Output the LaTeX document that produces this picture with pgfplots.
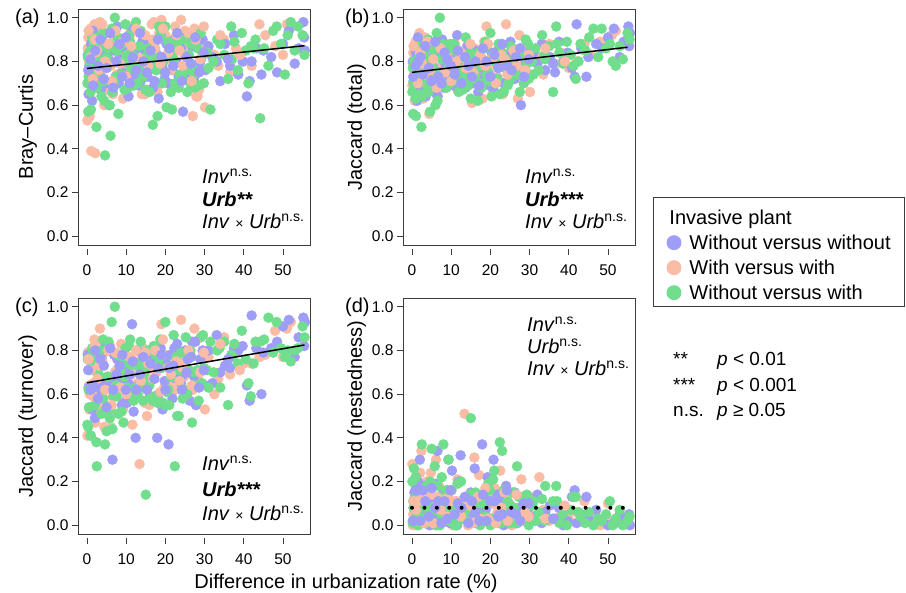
\documentclass[border=0pt]{standalone}
\usepackage{fontspec}
\setmainfont{Liberation Sans}
\usepackage{pgfplots}
\usepackage{pgfplotstable}
\pgfplotsset{compat=1.18}

\definecolor{cblue}{RGB}{158,158,248}
\definecolor{csalmon}{RGB}{250,188,165}
\definecolor{cgreen}{RGB}{112,222,140}
\definecolor{frame}{RGB}{60,60,60}

% columns: x = difference in urbanization rate, bc = Bray-Curtis,
% jt = Jaccard total, tu = turnover, ne = nestedness
\pgfplotstableread{
x bc jt tu ne
0.2 0.83 0.80 0.78 0.02
0.4 0.65 0.71 0.63 0.08
0.6 0.78 0.77 0.62 0.15
0.8 0.72 0.66 0.63 0.03
1.0 0.88 0.84 0.62 0.22
1.3 0.62 0.62 0.53 0.09
1.5 0.94 0.91 0.71 0.20
1.8 0.76 0.74 0.73 0.01
2.0 0.77 0.79 0.49 0.30
2.3 0.90 0.88 0.76 0.12
2.6 0.73 0.69 0.64 0.05
2.9 0.86 0.83 0.79 0.04
3.2 0.74 0.76 0.58 0.18
3.5 0.67 0.64 0.62 0.02
3.8 0.91 0.86 0.76 0.10
4.1 0.79 0.72 0.65 0.07
4.5 0.84 0.81 0.81 0.00
4.9 0.70 0.70 0.64 0.06
5.3 0.82 0.78 0.65 0.13
5.7 0.60 0.66 0.63 0.03
6.0 0.87 0.85 0.66 0.19
6.5 0.66 0.64 0.30 0.34
6.9 0.85 0.82 0.78 0.04
7.3 0.73 0.75 0.64 0.11
7.7 0.96 0.90 0.76 0.14
8.1 0.70 0.68 0.66 0.02
8.5 0.81 0.79 0.73 0.06
8.9 0.75 0.71 0.55 0.16
9.3 0.86 0.86 0.56 0.30
9.7 0.80 0.74 0.73 0.01
10.2 0.84 0.81 0.56 0.25
10.6 0.64 0.69 0.65 0.04
11.0 0.79 0.77 0.69 0.08
11.5 0.95 0.92 0.92 0.00
11.9 0.74 0.72 0.52 0.20
12.4 0.75 0.72 0.40 0.32
12.8 0.86 0.83 0.80 0.03
13.2 0.69 0.76 0.64 0.12
13.7 0.71 0.68 0.63 0.05
14.1 0.89 0.87 0.78 0.09
14.6 0.77 0.74 0.72 0.02
15.0 0.84 0.80 0.65 0.15
15.5 0.73 0.70 0.64 0.06
16.0 0.88 0.85 0.59 0.26
16.4 0.79 0.77 0.76 0.01
16.9 0.68 0.66 0.58 0.08
17.9 0.81 0.77 0.40 0.37
17.6 0.84 0.82 0.78 0.04
18.3 0.63 0.73 0.60 0.13
18.8 0.92 0.88 0.81 0.07
19.3 0.77 0.75 0.53 0.22
19.8 0.72 0.69 0.66 0.03
20.3 0.88 0.84 0.74 0.10
20.8 0.70 0.67 0.37 0.30
21.3 0.83 0.80 0.78 0.02
21.8 0.76 0.72 0.58 0.14
22.3 0.90 0.86 0.81 0.05
22.8 0.80 0.78 0.67 0.11
23.4 0.73 0.70 0.70 0.00
24.0 0.86 0.83 0.65 0.18
24.5 0.57 0.75 0.69 0.06
25.1 0.91 0.89 0.80 0.09
25.7 0.74 0.79 0.76 0.03
26.2 0.76 0.72 0.57 0.15
26.8 0.87 0.85 0.84 0.01
27.3 0.72 0.76 0.68 0.08
27.8 0.69 0.60 0.55 0.05
28.3 0.78 0.82 0.70 0.12
28.9 0.80 0.78 0.76 0.02
29.5 0.90 0.87 0.80 0.07
30.2 0.76 0.74 0.64 0.10
31.0 0.87 0.84 0.80 0.04
32.0 0.82 0.79 0.65 0.14
33.1 0.80 0.88 0.87 0.01
34.0 0.71 0.76 0.70 0.06
35.2 0.88 0.82 0.73 0.09
36.5 0.78 0.75 0.72 0.03
37.5 0.92 0.89 0.81 0.08
38.6 0.74 0.80 0.80 0.00
39.7 0.80 0.84 0.82 0.02
40.8 0.64 0.77 0.64 0.13
41.5 0.71 0.73 0.57 0.16
42.0 0.80 0.97 0.96 0.01
43.2 0.86 0.86 0.81 0.05
44.5 0.74 0.73 0.60 0.13
45.0 0.85 0.82 0.79 0.03
47.0 0.82 0.88 0.81 0.07
48.5 0.75 0.86 0.84 0.02
50.0 0.88 0.91 0.91 0.00
51.5 0.94 0.95 0.94 0.01
53.0 0.79 0.82 0.77 0.05
54.0 0.86 0.89 0.86 0.03
55.2 0.98 0.96 0.95 0.01
55.4 0.91 0.87 0.82 0.05
55.6 0.85 0.93 0.93 0.00
0.3 0.76 0.73 0.71 0.02
0.9 0.81 0.78 0.62 0.16
1.6 0.69 0.80 0.64 0.16
2.1 0.85 0.82 0.80 0.02
2.8 0.78 0.74 0.58 0.16
3.4 0.90 0.87 0.76 0.11
4.3 0.72 0.77 0.73 0.04
5.0 0.77 0.71 0.54 0.17
5.9 0.93 0.89 0.81 0.08
6.7 0.68 0.73 0.62 0.11
7.5 0.80 0.70 0.69 0.01
8.3 0.88 0.84 0.73 0.11
9.0 0.73 0.81 0.78 0.03
9.9 0.91 0.78 0.62 0.16
10.9 0.70 0.74 0.69 0.05
11.7 0.82 0.85 0.75 0.10
12.6 0.76 0.70 0.62 0.08
13.5 0.93 0.82 0.69 0.13
14.4 0.80 0.78 0.77 0.01
15.3 0.75 0.73 0.62 0.11
16.2 0.85 0.80 0.74 0.06
17.2 0.71 0.69 0.67 0.02
18.1 0.90 0.86 0.72 0.14
19.0 0.82 0.80 0.78 0.02
20.0 0.75 0.73 0.62 0.11
21.0 0.86 0.83 0.72 0.11
22.0 0.78 0.77 0.73 0.04
23.0 0.93 0.88 0.83 0.05
24.2 0.71 0.78 0.62 0.16
25.4 0.82 0.76 0.70 0.06
26.5 0.79 0.82 0.77 0.05
27.6 0.91 0.86 0.84 0.02
28.6 0.75 0.73 0.63 0.10
29.8 0.84 0.81 0.71 0.10
36.0 0.81 0.79 0.76 0.03
}\tabB

\pgfplotstableread{
x bc jt tu ne
0.1 0.53 0.69 0.41 0.28
0.3 0.91 0.84 0.79 0.05
0.5 0.80 0.76 0.64 0.12
0.7 0.55 0.62 0.60 0.02
0.9 0.95 0.89 0.79 0.10
1.1 0.39 0.73 0.73 0.00
1.4 0.86 0.80 0.63 0.17
1.7 0.70 0.66 0.60 0.06
1.9 0.97 0.93 0.85 0.08
2.1 0.38 0.71 0.47 0.24
2.4 0.88 0.85 0.51 0.34
2.7 0.81 0.77 0.74 0.03
3.0 0.72 0.68 0.54 0.14
3.3 0.98 0.91 0.90 0.01
3.7 0.76 0.74 0.54 0.20
4.0 0.86 0.82 0.78 0.04
4.4 0.60 0.56 0.45 0.11
4.8 0.83 0.79 0.55 0.24
5.2 0.67 0.70 0.68 0.02
5.6 0.93 0.87 0.80 0.07
6.1 0.78 0.75 0.45 0.30
6.6 0.65 0.64 0.59 0.05
7.1 0.88 0.83 0.70 0.13
7.6 0.74 0.72 0.71 0.01
8.2 0.82 0.78 0.69 0.09
8.7 0.90 0.86 0.83 0.03
9.2 0.63 0.69 0.53 0.16
9.8 0.85 0.81 0.75 0.06
10.4 0.77 0.74 0.74 0.00
11.0 0.92 0.88 0.77 0.11
11.6 0.69 0.67 0.46 0.21
12.2 0.83 0.79 0.75 0.04
12.9 0.72 0.73 0.65 0.08
13.4 0.86 0.79 0.28 0.51
14.0 0.65 0.84 0.82 0.02
14.7 0.65 0.70 0.56 0.14
15.3 0.67 0.61 0.50 0.11
15.9 0.89 0.86 0.55 0.31
16.5 0.97 0.77 0.72 0.05
17.1 0.98 0.82 0.59 0.23
17.7 0.76 0.71 0.70 0.01
18.4 0.93 0.89 0.82 0.07
19.0 0.99 0.96 0.92 0.04
19.7 0.80 0.75 0.63 0.12
20.4 0.70 0.68 0.65 0.03
21.1 0.85 0.80 0.63 0.17
21.8 0.88 0.73 0.67 0.06
22.5 0.96 0.87 0.62 0.25
23.2 0.68 0.65 0.63 0.02
24.0 0.99 0.97 0.94 0.03
24.8 0.83 0.78 0.68 0.10
25.5 0.90 0.72 0.72 0.00
26.3 0.87 0.84 0.79 0.05
27.0 0.55 0.63 0.62 0.01
27.4 0.95 0.92 0.90 0.02
27.9 0.64 0.76 0.55 0.21
28.6 0.67 0.70 0.66 0.04
29.4 0.88 0.85 0.76 0.09
30.1 0.59 0.66 0.53 0.13
31.0 0.85 0.80 0.77 0.03
32.5 0.83 0.82 0.60 0.22
33.5 0.78 0.74 0.67 0.07
35.0 0.90 0.88 0.86 0.02
36.5 0.75 0.79 0.69 0.10
38.0 0.86 0.84 0.79 0.05
40.0 0.80 0.77 0.74 0.03
42.0 0.78 0.80 0.74 0.06
44.0 0.97 0.88 0.77 0.11
45.5 0.92 0.83 0.78 0.05
48.0 0.87 0.89 0.89 0.00
50.0 0.83 0.87 0.77 0.10
51.0 0.97 0.92 0.90 0.02
52.0 0.96 0.94 0.93 0.01
0.2 0.86 0.79 0.79 0.00
0.6 0.74 0.72 0.53 0.19
1.2 0.93 0.82 0.79 0.03
1.6 0.79 0.75 0.65 0.10
2.2 0.97 0.88 0.82 0.06
2.8 0.68 0.63 0.62 0.01
3.5 0.95 0.80 0.65 0.15
4.2 0.71 0.86 0.84 0.02
5.0 0.77 0.73 0.65 0.08
5.9 0.70 0.82 0.82 0.00
6.9 0.91 0.77 0.59 0.18
8.0 0.86 0.70 0.66 0.04
9.5 0.76 0.84 0.72 0.12
10.8 0.96 0.78 0.76 0.02
12.0 0.71 0.69 0.62 0.07
14.3 0.90 0.76 0.76 0.00
16.2 0.84 0.81 0.72 0.09
18.0 0.66 0.63 0.59 0.04
20.0 0.92 0.79 0.78 0.01
22.0 0.90 0.86 0.72 0.14
25.0 0.94 0.81 0.75 0.06
28.2 0.64 0.78 0.65 0.13
0.4 0.94 0.87 0.76 0.11
1.0 0.82 0.78 0.71 0.07
1.5 0.72 0.70 0.59 0.11
2.0 0.90 0.84 0.82 0.02
2.6 0.85 0.79 0.67 0.12
3.1 0.76 0.74 0.73 0.01
3.9 0.97 0.89 0.75 0.14
4.6 0.80 0.76 0.62 0.14
5.4 0.88 0.81 0.80 0.01
6.3 0.71 0.68 0.55 0.13
7.3 0.94 0.86 0.79 0.07
8.4 0.79 0.75 0.63 0.12
9.0 0.89 0.82 0.78 0.04
10.0 0.73 0.71 0.60 0.11
11.3 0.87 0.80 0.69 0.11
12.5 0.95 0.84 0.80 0.04
13.7 0.81 0.77 0.66 0.11
14.9 0.92 0.88 0.79 0.09
15.6 0.78 0.75 0.74 0.01
16.8 0.90 0.80 0.67 0.13
17.4 0.86 0.83 0.80 0.03
18.7 0.79 0.78 0.61 0.17
19.4 0.95 0.88 0.85 0.03
20.7 0.84 0.82 0.72 0.10
21.4 0.76 0.70 0.69 0.01
22.8 0.92 0.83 0.75 0.08
23.6 0.85 0.81 0.66 0.15
24.4 0.78 0.74 0.72 0.02
25.9 0.93 0.85 0.80 0.05
26.7 0.71 0.78 0.64 0.14
27.7 0.90 0.86 0.84 0.02
28.9 0.81 0.76 0.70 0.06
29.8 0.96 0.83 0.79 0.04
34.0 0.92 0.86 0.83 0.03
39.0 0.83 0.80 0.71 0.09
}\tabS

\pgfplotstableread{
x bc jt tu ne
0.1 0.70 0.66 0.46 0.20
0.3 0.57 0.56 0.45 0.11
0.5 0.84 0.80 0.54 0.26
0.8 0.78 0.74 0.71 0.03
1.0 0.58 0.55 0.41 0.14
1.3 0.91 0.87 0.81 0.06
1.6 0.76 0.71 0.71 0.00
2.4 0.50 0.50 0.38 0.12
2.5 0.68 0.64 0.27 0.37
2.9 0.86 0.83 0.74 0.09
3.3 0.80 0.76 0.74 0.02
3.7 0.64 0.69 0.51 0.18
4.1 0.93 0.90 0.85 0.05
4.6 0.37 0.57 0.37 0.20
5.0 0.82 0.78 0.43 0.35
5.5 0.88 0.85 0.84 0.01
6.0 0.46 0.60 0.53 0.07
6.3 0.95 0.93 0.93 0.00
6.8 0.70 0.72 0.59 0.13
7.1 1.00 1.00 1.00 0.00
7.6 0.85 0.81 0.59 0.22
8.0 0.56 0.88 0.51 0.37
8.5 0.79 0.75 0.71 0.04
9.0 0.88 0.84 0.74 0.10
9.6 0.67 0.70 0.68 0.02
10.1 0.83 0.79 0.63 0.16
10.7 0.92 0.88 0.82 0.06
11.3 0.77 0.73 0.73 0.00
11.9 0.69 0.66 0.57 0.09
12.5 0.98 0.83 0.63 0.20
13.1 0.80 0.77 0.74 0.03
13.7 0.94 0.91 0.84 0.07
14.3 0.73 0.69 0.57 0.12
15.0 0.67 0.63 0.14 0.49
15.6 0.86 0.81 0.80 0.01
16.2 0.78 0.74 0.59 0.15
16.8 0.51 0.62 0.57 0.05
17.4 0.82 0.78 0.78 0.00
18.0 0.55 0.70 0.56 0.14
18.7 0.92 0.89 0.85 0.04
19.4 0.80 0.75 0.56 0.19
20.0 0.96 0.93 0.93 0.00
20.3 0.59 0.64 0.61 0.03
21.0 0.84 0.80 0.55 0.25
21.7 0.58 0.72 0.70 0.02
22.4 0.70 0.65 0.27 0.38
23.0 0.88 0.84 0.50 0.34
23.7 0.74 0.77 0.71 0.06
24.4 0.72 0.69 0.58 0.11
25.2 0.90 0.87 0.86 0.01
26.0 0.83 0.79 0.71 0.08
26.8 0.77 0.74 0.47 0.27
27.5 0.68 0.66 0.64 0.02
28.2 0.86 0.83 0.71 0.12
29.0 0.93 0.90 0.86 0.04
29.8 0.70 0.72 0.72 0.00
30.6 0.84 0.80 0.71 0.09
31.5 0.58 0.86 0.84 0.02
32.3 0.80 0.76 0.70 0.06
33.2 0.90 0.92 0.80 0.12
34.0 0.88 0.81 0.63 0.18
35.0 0.83 0.87 0.84 0.03
36.0 0.72 0.66 0.55 0.11
36.8 0.96 0.96 0.78 0.18
37.6 0.89 0.84 0.83 0.01
38.5 0.76 0.79 0.74 0.05
39.5 0.93 0.89 0.89 0.00
40.5 0.85 0.83 0.76 0.07
41.2 0.70 0.78 0.65 0.13
41.8 0.87 0.72 0.59 0.13
43.0 0.90 0.88 0.84 0.04
44.2 0.54 0.85 0.84 0.01
45.2 0.86 0.91 0.85 0.06
46.3 0.78 0.95 0.95 0.00
47.5 0.94 0.82 0.79 0.03
48.4 0.96 0.95 0.93 0.02
49.5 0.88 0.86 0.81 0.05
50.5 0.74 0.88 0.77 0.11
51.2 0.92 0.80 0.80 0.00
52.0 0.98 0.78 0.75 0.03
53.0 0.85 0.87 0.80 0.07
53.8 0.96 0.81 0.81 0.00
55.0 0.92 0.93 0.91 0.02
55.5 0.83 0.90 0.86 0.04
0.2 0.82 0.77 0.76 0.01
0.9 0.66 0.63 0.41 0.22
1.8 0.88 0.82 0.74 0.08
3.0 0.75 0.72 0.69 0.03
4.4 0.62 0.68 0.52 0.16
5.8 0.60 0.76 0.49 0.27
7.4 0.73 0.69 0.64 0.05
9.3 0.80 0.77 0.47 0.30
11.0 0.89 0.85 0.85 0.00
13.9 0.76 0.73 0.64 0.09
17.0 0.88 0.84 0.82 0.02
19.8 0.75 0.71 0.55 0.16
22.8 0.85 0.78 0.77 0.01
26.4 0.70 0.85 0.80 0.05
29.3 0.82 0.79 0.65 0.14
15.3 0.79 0.76 0.66 0.10
0.4 0.73 0.70 0.62 0.08
1.1 0.85 0.80 0.77 0.03
2.0 0.68 0.65 0.55 0.10
2.7 0.91 0.86 0.72 0.14
3.5 0.78 0.81 0.80 0.01
4.2 0.71 0.66 0.58 0.08
5.3 0.86 0.76 0.68 0.08
6.5 0.66 0.62 0.44 0.18
7.8 0.91 0.82 0.78 0.04
8.8 0.74 0.68 0.52 0.16
9.8 0.97 0.88 0.81 0.07
10.5 0.68 0.71 0.69 0.02
11.6 0.83 0.80 0.61 0.19
12.9 0.70 0.67 0.60 0.07
13.4 0.87 0.75 0.72 0.03
14.8 0.82 0.84 0.70 0.14
15.9 0.66 0.72 0.64 0.08
17.7 0.76 0.68 0.58 0.10
18.4 0.96 0.86 0.76 0.10
19.1 0.70 0.74 0.72 0.02
20.7 0.89 0.83 0.62 0.21
21.4 0.66 0.70 0.68 0.02
22.1 0.81 0.88 0.87 0.01
23.4 0.68 0.66 0.50 0.16
24.0 0.90 0.81 0.79 0.02
24.9 0.76 0.71 0.62 0.09
25.6 0.66 0.75 0.60 0.15
26.6 0.88 0.78 0.77 0.01
27.2 0.74 0.83 0.70 0.13
28.5 0.69 0.70 0.57 0.13
29.6 0.84 0.88 0.87 0.01
31.0 0.77 0.74 0.63 0.11
33.8 0.90 0.83 0.81 0.02
37.0 0.81 0.88 0.77 0.11
42.5 0.86 0.80 0.74 0.06
}\tabG

\pgfplotsset{
  panel/.style={
    scale only axis, width=232pt, height=236pt, anchor=south west,
    xmin=-2.3, xmax=56.9, ymin=-0.04, ymax=1.04,
    xtick={0,10,20,30,40,50}, ytick={0,0.2,0.4,0.6,0.8,1.0},
    yticklabel style={/pgf/number format/.cd, fixed, fixed zerofill, precision=1},
    xtick pos=bottom, ytick pos=left, tick align=outside, major tick length=6pt,
    axis line style={frame, line width=0.9pt},
    tick style={frame, line width=0.9pt},
    xtick style={yshift=-4pt},
    xticklabel style={yshift=-10pt},
    tick label style={font=\fontsize{15.5}{18}\selectfont},
    /pgf/number format/assume math mode=true,
    label style={font=\fontsize{20}{24}\selectfont},
    clip mode=individual,
  },
  lefty/.style={ylabel style={at={(axis description cs:-0.194,0.5)}, anchor=base}},
  righty/.style={ylabel style={at={(axis description cs:-0.177,0.5)}, anchor=base}},
  dots/.style={only marks, mark=*, mark size=5pt, forget plot},
  first/.style={skip coords between index={95}{400}},
  second/.style={skip coords between index={0}{95}},
  fitl/.style={black, line width=1.5pt, no marks, forget plot},
  dotl/.style={black, line width=4pt, line cap=round, dash pattern=on 0pt off 12.4pt, no marks, forget plot},
}

% the three groups, drawn in two interleaved passes
\newcommand{\cloud}[1]{%
  \addplot[dots, first, csalmon] table[x=x, y=#1] {\tabS};
  \addplot[dots, first, cblue] table[x=x, y=#1] {\tabB};
  \addplot[dots, first, cgreen] table[x=x, y=#1] {\tabG};
  \addplot[dots, second, cgreen] table[x=x, y=#1] {\tabG};
  \addplot[dots, second, csalmon] table[x=x, y=#1] {\tabS};
  \addplot[dots, second, cblue] table[x=x, y=#1] {\tabB};
}

\newcommand{\ns}{\textsuperscript{n.s.}}
\newcommand{\tms}{{\fontsize{14}{14}\selectfont ×}}
% fixed row height for the legend entries
\newcommand{\lrow}{\rule[-5pt]{0pt}{20pt}}

\begin{document}
\begin{tikzpicture}[every node/.style={font=\fontsize{20}{24}\selectfont}]

% (a) Bray-Curtis
\begin{axis}[panel, lefty, at={(78pt,348pt)}, ylabel={Bray–Curtis}]
\cloud{bc}
\addplot[fitl] coordinates {(0,0.768) (55.5,0.872)};
\end{axis}

% (b) Jaccard total, with the legend
\begin{axis}[panel, righty, at={(403pt,348pt)}, ylabel={Jaccard (total)},
  legend cell align=left,
  legend style={at={(1.0776,0.2034)}, anchor=north west, draw=frame, line width=0.9pt,
    font=\fontsize{20}{24}\selectfont, inner xsep=12pt, inner ysep=4pt,
    nodes={inner sep=1.5pt}, row sep=5.5pt, column sep=7pt}]
\addlegendimage{empty legend}
\addlegendentry{\hspace*{-20pt}\rule[-5pt]{0pt}{26.5pt}Invasive plant}
\addlegendimage{only marks, mark=*, mark size=7pt, cblue}
\addlegendentry{\lrow Without versus without}
\addlegendimage{only marks, mark=*, mark size=7pt, csalmon}
\addlegendentry{\lrow With versus with}
\addlegendimage{only marks, mark=*, mark size=7pt, cgreen}
\addlegendentry{\lrow Without versus with}
\cloud{jt}
\addplot[fitl] coordinates {(0,0.75) (55,0.865)};
\end{axis}

% (c) Jaccard turnover
\begin{axis}[panel, lefty, at={(78pt,59pt)}, ylabel={Jaccard (turnover)}]
\cloud{tu}
\addplot[fitl] coordinates {(0,0.652) (55.5,0.825)};
\end{axis}

% (d) Jaccard nestedness
\begin{axis}[panel, righty, at={(403pt,59pt)}, ylabel={Jaccard (nestedness)}]
\cloud{ne}
\addplot[dotl] coordinates {(0,0.08) (56.9,0.08)};
\end{axis}

% panel letters
\node[anchor=base west, inner sep=0pt] at (15pt,569pt) {(a)};
\node[anchor=base west, inner sep=0pt] at (345pt,569pt) {(b)};
\node[anchor=base west, inner sep=0pt] at (15pt,280pt) {(c)};
\node[anchor=base west, inner sep=0pt] at (345pt,280pt) {(d)};

% model terms
\node[anchor=base west, inner sep=0pt] at (202pt,409pt) {\textit{Inv}\ns};
\node[anchor=base west, inner sep=0pt] at (202pt,386pt) {\textbf{\textit{Urb**}}};
\node[anchor=base west, inner sep=0pt] at (202pt,364pt) {\textit{Inv} \tms\ \textit{Urb}\ns};

\node[anchor=base west, inner sep=0pt] at (525pt,409pt) {\textit{Inv}\ns};
\node[anchor=base west, inner sep=0pt] at (525pt,386pt) {\textbf{\textit{Urb***}}};
\node[anchor=base west, inner sep=0pt] at (525pt,364pt) {\textit{Inv} \tms\ \textit{Urb}\ns};

\node[anchor=base west, inner sep=0pt] at (202pt,122pt) {\textit{Inv}\ns};
\node[anchor=base west, inner sep=0pt] at (202pt,96pt) {\textbf{\textit{Urb***}}};
\node[anchor=base west, inner sep=0pt] at (202pt,72pt) {\textit{Inv} \tms\ \textit{Urb}\ns};

\node[anchor=base west, inner sep=0pt] at (527pt,261pt) {\textit{Inv}\ns};
\node[anchor=base west, inner sep=0pt] at (527pt,239pt) {\textit{Urb}\ns};
\node[anchor=base west, inner sep=0pt] at (527pt,217pt) {\textit{Inv} \tms\ \textit{Urb}\ns};

% significance key
\begin{scope}[every node/.style={anchor=base west, inner sep=0pt, font=\fontsize{19}{23}\selectfont}]
\node at (673pt,227pt) {**};
\node at (717pt,227pt) {\textit{p} < 0.01};
\node at (673pt,201.5pt) {***};
\node at (717pt,201.5pt) {\textit{p} < 0.001};
\node at (673pt,176pt) {n.s.};
\node at (717pt,176pt) {\textit{p} ≥ 0.05};
\end{scope}

% common x label
\node[anchor=base] at (346pt,4pt) {Difference in urbanization rate (\%)};

\pgfresetboundingbox
\path[use as bounding box] (0pt,0pt) rectangle (906pt,593pt);
\end{tikzpicture}
\end{document}
